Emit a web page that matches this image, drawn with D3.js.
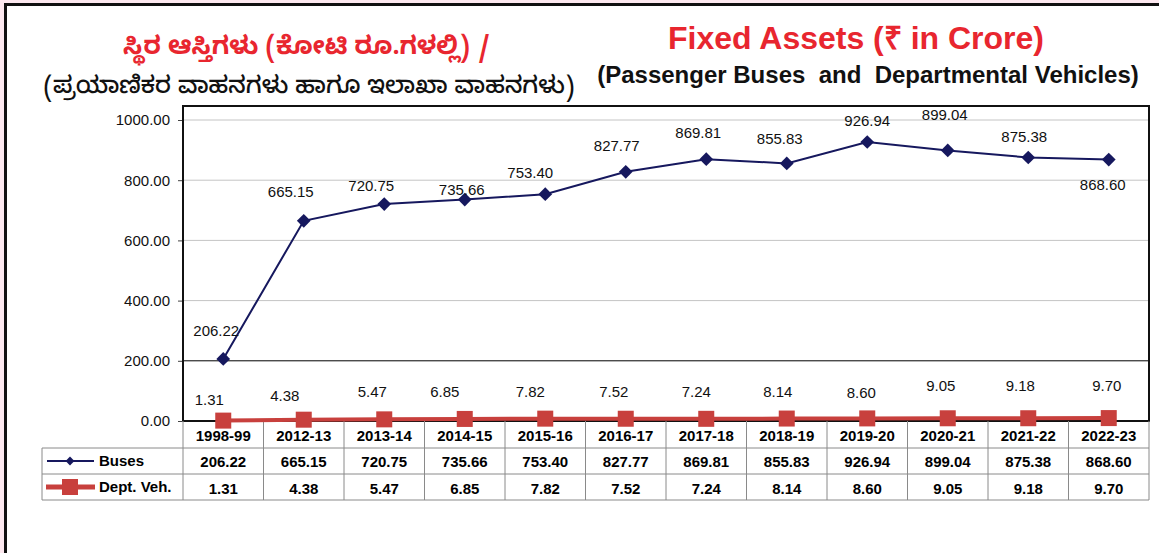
<!DOCTYPE html>
<html lang="en">
<head>
    <meta charset="UTF-8">
    <title>Fixed Assets (₹ in Crore)</title>
    <script src="https://d3js.org/d3.v7.min.js"></script>
    <style>
        body { margin: 0; background: #fde8ef; }
        svg { display: block; font-family: "Liberation Sans", Arial, sans-serif; }
        .tick text { font-size: 15px; fill: #111; }
        .lbl { font-size: 15px; fill: #111; }
        .cell { font-size: 15px; font-weight: bold; fill: #000; }
    </style>
</head>
<body>
    <svg width="1159" height="553"></svg>

    <script>
        // data
        const years = ["1998-99", "2012-13", "2013-14", "2014-15", "2015-16", "2016-17",
                       "2017-18", "2018-19", "2019-20", "2020-21", "2021-22", "2022-23"];
        const buses = [206.22, 665.15, 720.75, 735.66, 753.40, 827.77,
                       869.81, 855.83, 926.94, 899.04, 875.38, 868.60];
        const deptVeh = [1.31, 4.38, 5.47, 6.85, 7.82, 7.52,
                         7.24, 8.14, 8.60, 9.05, 9.18, 9.70];
        const yTicks = [0, 200, 400, 600, 800, 1000];

        // hand-placed label nudges (px from marker), as in the original
        const busLabelOff = [[-7, -28], [-13, -29], [-13, -18], [-3, -10], [-15, -21], [-9, -26],
                             [-8, -26], [-7, -24], [0, -21], [-3, -35], [-4, -21], [-6, 25]];
        const deptLabelOff = [[-14, -21], [-19, -24], [-12, -27], [-20, -27], [-15, -27], [-12, -27],
                              [-10, -27], [-9, -27], [-6, -25], [-7, -32], [-8, -32], [-2, -32]];

        const svg = d3.select("svg");
        const W = 1159, H = 553;

        // page frame
        svg.append("rect").attr("x", 5.5).attr("y", 4.5).attr("width", W).attr("height", H)
            .attr("fill", "#fff").attr("stroke", "#111").attr("stroke-width", 3);

        const plot = {left: 183, right: 1149, top: 106, bottom: 421};

        const x = d3.scaleBand().domain(years).range([plot.left, plot.right]);
        const y = d3.scaleLinear().domain([0, 1000]).range([plot.bottom, 120]);
        const cx = d => x(d) + x.bandwidth() / 2;

        // titles
        svg.append("text").attr("x", 307).attr("y", 54).attr("text-anchor", "middle")
            .attr("fill", "#e8262f").style("font-size", "25px").style("font-weight", "bold")
            .style("font-family", "'Noto Sans Kannada', 'Noto Sans', sans-serif")
            .text("ಸ್ಥಿರ ಆಸ್ತಿಗಳು (ಕೋಟಿ ರೂ.ಗಳಲ್ಲಿ) /");
        svg.append("text").attr("x", 309).attr("y", 93).attr("text-anchor", "middle")
            .attr("fill", "#111").style("font-size", "24px").style("font-weight", "500")
            .style("font-family", "'Noto Sans Kannada', 'Noto Sans', sans-serif")
            .text("(ಪ್ರಯಾಣಿಕರ ವಾಹನಗಳು ಹಾಗೂ ಇಲಾಖಾ ವಾಹನಗಳು)");
        svg.append("text").attr("x", 856).attr("y", 49).attr("text-anchor", "middle")
            .attr("fill", "#e8262f").style("font-size", "32px").style("font-weight", "bold")
            .text("Fixed Assets (₹ in Crore)");
        svg.append("text").attr("x", 868).attr("y", 83).attr("text-anchor", "middle")
            .attr("fill", "#111").style("font-size", "24px").style("font-weight", "bold")
            .style("white-space", "pre")
            .text("(Passenger Buses  and  Departmental Vehicles)");

        // gridlines
        svg.append("g").selectAll("line").data(yTicks.filter(d => d > 0)).join("line")
            .attr("x1", plot.left).attr("x2", plot.right)
            .attr("y1", d => y(d)).attr("y2", d => y(d))
            .attr("stroke", d => d === 200 ? "#000" : "#c4c4c4").attr("stroke-width", 1);

        // y axis
        const yAxis = svg.append("g").attr("transform", `translate(${plot.left},0)`)
            .call(d3.axisLeft(y).tickValues(yTicks).tickFormat(d3.format(".2f"))
                .tickSize(5).tickPadding(8));
        yAxis.select(".domain").remove();
        yAxis.selectAll(".tick line").attr("stroke", "#444");

        // plot frame
        svg.append("path")
            .attr("d", `M${plot.left},${plot.bottom}V${plot.top}H${plot.right}V${plot.bottom}H${plot.left}`)
            .attr("fill", "none").attr("stroke", "#111").attr("stroke-width", 2);

        // table
        const rowH = [plot.bottom, 448, 474, 500];
        const tbl = svg.append("g").attr("stroke", "#8a8a8a").attr("stroke-width", 1);
        tbl.selectAll("line.v").data(d3.range(years.length + 1)).join("line")
            .attr("x1", i => plot.left + i * x.step()).attr("x2", i => plot.left + i * x.step())
            .attr("y1", rowH[0]).attr("y2", rowH[3]);
        tbl.append("line").attr("x1", 42).attr("x2", 42).attr("y1", rowH[1]).attr("y2", rowH[3]);
        [1, 2, 3].forEach(r => {
            tbl.append("line").attr("x1", 42).attr("x2", plot.right)
                .attr("y1", rowH[r]).attr("y2", rowH[r]);
        });

        svg.append("g").selectAll("text").data(years).join("text").attr("class", "cell")
            .attr("x", d => cx(d)).attr("y", rowH[0] + 20).attr("text-anchor", "middle").text(d => d);
        svg.append("g").selectAll("text").data(buses).join("text").attr("class", "cell")
            .attr("x", (d, i) => cx(years[i])).attr("y", rowH[1] + 19).attr("text-anchor", "middle")
            .text(d => d.toFixed(2));
        svg.append("g").selectAll("text").data(deptVeh).join("text").attr("class", "cell")
            .attr("x", (d, i) => cx(years[i])).attr("y", rowH[2] + 20).attr("text-anchor", "middle")
            .text(d => d.toFixed(2));

        const navy = "#16185e", red = "#c8403d";
        const diamond = d3.symbol().type(d3.symbolDiamond2).size(120);

        // legend keys in table
        const ly1 = (rowH[1] + rowH[2]) / 2, ly2 = (rowH[2] + rowH[3]) / 2;
        svg.append("line").attr("x1", 47).attr("x2", 94).attr("y1", ly1).attr("y2", ly1)
            .attr("stroke", navy).attr("stroke-width", 2);
        svg.append("path").attr("d", d3.symbol().type(d3.symbolDiamond2).size(50))
            .attr("transform", `translate(70,${ly1})`).attr("fill", navy);
        svg.append("text").attr("class", "cell").attr("x", 99).attr("y", ly1 + 5).text("Buses");
        svg.append("line").attr("x1", 46).attr("x2", 95).attr("y1", ly2).attr("y2", ly2)
            .attr("stroke", red).attr("stroke-width", 5);
        svg.append("rect").attr("x", 62).attr("y", ly2 - 8).attr("width", 16).attr("height", 16)
            .attr("fill", red);
        svg.append("text").attr("class", "cell").attr("x", 99).attr("y", ly2 + 5).text("Dept. Veh.");

        // series lines
        const line = d3.line().x((d, i) => cx(years[i])).y(d => y(d));
        svg.append("path").datum(deptVeh).attr("d", line)
            .attr("fill", "none").attr("stroke", red).attr("stroke-width", 4);
        svg.append("g").selectAll("rect").data(deptVeh).join("rect")
            .attr("x", (d, i) => cx(years[i]) - 8).attr("y", d => y(d) - 8)
            .attr("width", 16).attr("height", 16).attr("fill", red);

        svg.append("path").datum(buses).attr("d", line)
            .attr("fill", "none").attr("stroke", navy).attr("stroke-width", 2);
        svg.append("g").selectAll("path").data(buses).join("path")
            .attr("d", diamond)
            .attr("transform", (d, i) => `translate(${cx(years[i])},${y(d)})`)
            .attr("fill", navy);

        // data labels
        svg.append("g").selectAll("text").data(buses).join("text").attr("class", "lbl")
            .attr("x", (d, i) => cx(years[i]) + busLabelOff[i][0])
            .attr("y", (d, i) => y(d) + busLabelOff[i][1] + 5)
            .attr("text-anchor", "middle").text(d => d.toFixed(2));
        svg.append("g").selectAll("text").data(deptVeh).join("text").attr("class", "lbl")
            .attr("x", (d, i) => cx(years[i]) + deptLabelOff[i][0])
            .attr("y", (d, i) => y(d) + deptLabelOff[i][1] + 5)
            .attr("text-anchor", "middle").text(d => d.toFixed(2));
    </script>
</body>
</html>
